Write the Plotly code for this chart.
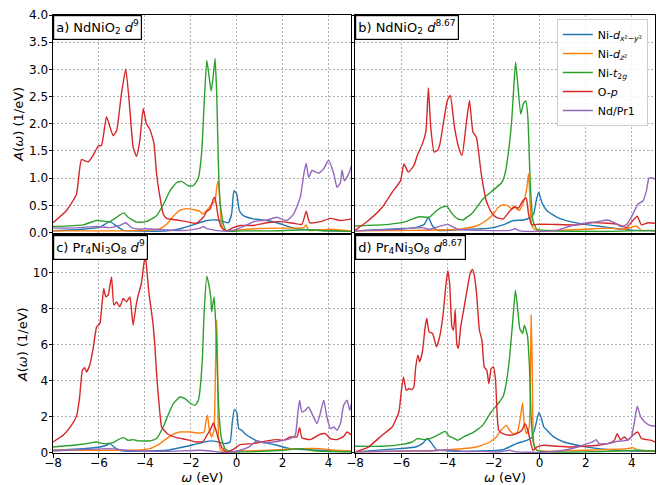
import plotly.graph_objects as go
from plotly.subplots import make_subplots

# ---------------- data ----------------
SERIES_NAMES = ["Ni-<i>d</i><sub><i>x</i>²−<i>y</i>²</sub>", "Ni-<i>d</i><sub><i>z</i>²</sub>",
                "Ni-<i>t</i><sub>2<i>g</i></sub>", "O-<i>p</i>", "Nd/Pr1"]
SERIES_COLORS = ["#1f77b4", "#ff7f0e", "#2ca02c", "#d62728", "#9467bd"]
PANEL_LABELS = ["a) NdNiO<sub>2</sub> <i>d</i><sup>9</sup>",
                "b) NdNiO<sub>2</sub> <i>d</i><sup>8.67</sup>",
                "c) Pr<sub>4</sub>Ni<sub>3</sub>O<sub>8</sub> <i>d</i><sup>9</sup>",
                "d) Pr<sub>4</sub>Ni<sub>3</sub>O<sub>8</sub> <i>d</i><sup>8.67</sup>"]
TOP_YTICKS = [0.0, 0.5, 1.0, 1.5, 2.0, 2.5, 3.0, 3.5, 4.0]
BOTTOM_YTICKS = [0, 2, 4, 6, 8, 10]
XTICKS = [-8, -6, -4, -2, 0, 2, 4]

# panel a) NdNiO2 d9
A_DX_X = [-8, -6.69, -5.96, -5.52, -5.31, -4.94, -4.51, -3.05, -2.46, -1.89, -1.3, -0.87, -0.58, -0.36, -0.22, -0.12, 0.0, 0.12, 0.29, 0.73, 1.32, 1.75, 2.33, 2.77, 5.0]
A_DX_Y = [0.03, 0.06, 0.1, 0.2, 0.14, 0.04, 0.03, 0.03, 0.07, 0.14, 0.22, 0.23, 0.2, 0.18, 0.34, 0.77, 0.71, 0.4, 0.31, 0.25, 0.22, 0.18, 0.1, 0.06, 0.02]
A_DZ2_X = [-8, -3.93, -3.34, -3.05, -2.76, -2.46, -2.17, -1.89, -1.6, -1.48, -1.3, -1.08, -0.94, -0.87, -0.8, -0.73, -0.66, -0.55, 0.73, 1.9, 2.92, 3.03, 3.14, 4.08, 5.0]
A_DZ2_Y = [0.03, 0.04, 0.07, 0.15, 0.3, 0.41, 0.44, 0.42, 0.39, 0.34, 0.41, 0.52, 0.58, 0.83, 0.95, 0.58, 0.15, 0.04, 0.07, 0.08, 0.09, 0.14, 0.04, 0.06, 0.03]
A_T2G_X = [-8, -6.69, -6.1, -5.52, -5.23, -4.91, -4.73, -4.36, -3.93, -3.49, -3.2, -2.9, -2.61, -2.4, -2.1, -1.89, -1.67, -1.52, -1.41, -1.3, -1.2, -1.11, -1.01, -0.94, -0.87, -0.8, -0.73, -0.58, -0.44, 0.15, 1.5, 3.0, 4.0, 5.0]
A_T2G_Y = [0.11, 0.14, 0.22, 0.2, 0.28, 0.36, 0.28, 0.19, 0.2, 0.31, 0.51, 0.77, 0.92, 0.94, 0.86, 0.86, 1.0, 1.5, 2.43, 3.17, 2.86, 2.6, 2.92, 3.2, 2.55, 1.32, 0.58, 0.15, 0.03, 0.03, 0.03, 0.05, 0.03, 0.02]
A_OP_X = [-8, -7.42, -6.98, -6.76, -6.47, -6.25, -6.03, -5.89, -5.67, -5.52, -5.38, -5.23, -5.02, -4.83, -4.65, -4.51, -4.36, -4.22, -4.07, -3.93, -3.78, -3.6, -3.49, -3.34, -3.2, -3.05, -2.61, -2.17, -1.75, -1.45, -1.3, -1.16, -1.01, -0.95, -0.8, -0.66, -0.44, -0.15, 0.15, 0.73, 1.32, 1.9, 2.48, 2.84, 3.03, 3.18, 3.65, 4.08, 4.52, 5.0]
A_OP_Y = [0.18, 0.4, 0.7, 1.34, 1.3, 1.42, 1.59, 1.6, 2.13, 1.94, 1.78, 1.87, 2.55, 3.01, 2.25, 1.57, 1.4, 1.69, 2.28, 2.0, 1.9, 1.63, 1.08, 0.65, 0.34, 0.26, 0.23, 0.2, 0.17, 0.28, 0.39, 0.43, 0.62, 0.65, 0.28, 0.09, 0.03, 0.09, 0.13, 0.13, 0.18, 0.2, 0.17, 0.15, 0.39, 0.18, 0.2, 0.26, 0.22, 0.25]
A_ND_X = [-8, -6.84, -6.1, -5.52, -5.09, -4.83, -4.58, -4.22, -3.93, -3.34, -2.17, -1.6, -1.45, -1.3, -0.73, -0.15, 0.44, 0.73, 1.32, 1.75, 2.18, 2.48, 2.77, 2.95, 3.03, 3.14, 3.28, 3.57, 3.79, 4.0, 4.23, 4.37, 4.52, 4.59, 4.69, 4.88, 5.0]
A_ND_Y = [0.08, 0.09, 0.11, 0.09, 0.13, 0.18, 0.09, 0.06, 0.07, 0.05, 0.04, 0.08, 0.11, 0.07, 0.03, 0.04, 0.14, 0.2, 0.23, 0.28, 0.22, 0.34, 0.65, 1.14, 1.27, 1.01, 1.14, 1.09, 1.17, 1.33, 1.08, 0.83, 0.92, 1.15, 0.95, 1.08, 1.23]

# panel b) NdNiO2 d8.67
B_DX_X = [-8, -6.1, -5.37, -5.0, -4.82, -4.64, -4.42, -3.18, -2.16, -1.58, -1.14, -0.7, -0.41, -0.26, -0.15, -0.04, 0.1, 0.32, 0.76, 1.34, 1.93, 2.66, 3.39, 4.12, 5.0]
B_DX_Y = [0.03, 0.07, 0.09, 0.15, 0.28, 0.12, 0.04, 0.06, 0.08, 0.14, 0.22, 0.23, 0.28, 0.34, 0.58, 0.74, 0.55, 0.4, 0.28, 0.2, 0.15, 0.11, 0.07, 0.04, 0.03]
B_DZ2_X = [-8, -5.37, -3.47, -2.74, -2.31, -2.01, -1.8, -1.58, -1.36, -1.21, -1.11, -0.99, -0.88, -0.7, -0.55, -0.48, -0.44, -0.37, -0.29, -0.12, 1.93, 2.95, 3.68, 4.19, 4.41, 5.0]
B_DZ2_Y = [0.03, 0.04, 0.06, 0.12, 0.22, 0.34, 0.46, 0.51, 0.49, 0.43, 0.49, 0.43, 0.41, 0.55, 0.83, 1.08, 0.83, 0.22, 0.09, 0.04, 0.06, 0.08, 0.06, 0.12, 0.04, 0.04]
B_T2G_X = [-8, -6.54, -5.8, -5.23, -4.79, -4.47, -4.2, -4.01, -3.84, -3.55, -3.33, -2.89, -2.45, -2.01, -1.64, -1.5, -1.36, -1.21, -1.11, -1.04, -0.95, -0.82, -0.7, -0.6, -0.51, -0.41, -0.29, -0.12, 0.47, 3.0, 4.8, 5.0]
B_T2G_Y = [0.12, 0.15, 0.2, 0.29, 0.28, 0.4, 0.47, 0.48, 0.37, 0.25, 0.23, 0.37, 0.62, 0.78, 0.92, 1.08, 1.45, 2.06, 2.74, 3.13, 2.74, 2.18, 2.37, 2.42, 2.12, 0.95, 0.22, 0.06, 0.03, 0.02, 0.04, 0.03]
B_OP_X = [-8, -7.42, -6.83, -6.39, -6.03, -5.88, -5.69, -5.45, -5.3, -5.08, -4.93, -4.82, -4.72, -4.57, -4.42, -4.32, -4.13, -3.99, -3.87, -3.69, -3.47, -3.36, -3.18, -3.04, -2.89, -2.74, -2.53, -2.31, -2.09, -1.88, -1.58, -1.28, -1.07, -0.92, -0.7, -0.58, -0.48, -0.34, -0.12, 0.47, 1.64, 2.22, 2.95, 3.39, 3.75, 4.04, 4.23, 4.41, 4.7, 5.0]
B_OP_Y = [0.04, 0.22, 0.46, 0.74, 0.95, 1.26, 1.11, 1.23, 1.42, 1.63, 1.85, 2.66, 1.94, 1.48, 1.51, 1.63, 2.12, 2.44, 2.52, 1.94, 1.51, 1.42, 2.0, 2.43, 1.85, 1.75, 1.08, 0.58, 0.37, 0.28, 0.25, 0.4, 0.47, 0.45, 0.6, 0.63, 0.34, 0.14, 0.15, 0.15, 0.14, 0.18, 0.17, 0.15, 0.09, 0.22, 0.3, 0.14, 0.18, 0.17]
B_ND_X = [-8, -6.1, -5.08, -4.79, -3.99, -3.55, -2.45, -1.28, -1.07, -0.85, -0.12, 0.76, 1.34, 1.93, 2.51, 2.95, 3.24, 3.53, 3.75, 3.97, 4.26, 4.48, 4.63, 4.74, 4.91, 5.0]
B_ND_Y = [0.03, 0.06, 0.09, 0.06, 0.15, 0.06, 0.04, 0.04, 0.07, 0.03, 0.02, 0.04, 0.12, 0.17, 0.2, 0.23, 0.18, 0.11, 0.14, 0.28, 0.52, 0.58, 0.77, 1.0, 1.0, 0.98]

# panel c) Pr4Ni3O8 d9
C_DX_X = [-8, -6.69, -5.96, -5.67, -5.52, -5.31, -5.09, -4.51, -3.05, -2.32, -1.6, -1.16, -0.8, -0.51, -0.29, -0.19, -0.1, 0.0, 0.09, 0.22, 0.44, 0.87, 1.32, 1.75, 2.33, 3.5, 5.0]
C_DX_Y = [0.15, 0.24, 0.33, 0.43, 0.52, 0.3, 0.15, 0.09, 0.15, 0.33, 0.55, 0.67, 0.61, 0.52, 0.61, 1.72, 2.42, 2.27, 1.35, 1.26, 0.98, 0.67, 0.55, 0.43, 0.24, 0.15, 0.09]
C_DZ2_X = [-8, -5.96, -4.51, -3.78, -3.34, -3.05, -2.76, -2.47, -2.03, -1.6, -1.42, -1.33, -1.27, -1.19, -1.09, -0.99, -0.92, -0.87, -0.83, -0.79, -0.7, -0.44, 0.15, 1.32, 2.04, 2.77, 3.64, 4.23, 5.0]
C_DZ2_Y = [0.15, 0.15, 0.15, 0.24, 0.52, 0.8, 1.04, 1.16, 1.16, 1.11, 1.16, 1.81, 2.09, 1.26, 0.89, 1.26, 4.95, 7.39, 4.95, 0.89, 0.18, 0.06, 0.11, 0.15, 0.2, 0.24, 0.24, 0.15, 0.11]
C_T2G_X = [-8, -7.12, -6.54, -6.1, -5.81, -5.38, -5.16, -4.91, -4.73, -4.51, -4.29, -3.78, -3.49, -3.2, -2.99, -2.76, -2.47, -2.25, -2.03, -1.81, -1.67, -1.6, -1.49, -1.42, -1.3, -1.22, -1.13, -1.09, -1.01, -0.98, -0.9, -0.83, -0.76, -0.66, -0.51, -0.29, 0.15, 2.04, 2.77, 3.5, 5.0]
C_T2G_Y = [0.33, 0.43, 0.52, 0.61, 0.52, 0.57, 0.74, 0.85, 0.7, 0.74, 0.67, 0.67, 0.8, 1.44, 2.09, 2.74, 3.1, 3.01, 2.77, 2.64, 2.92, 3.47, 5.32, 7.73, 9.8, 9.39, 8.65, 7.82, 8.47, 8.65, 6.8, 4.03, 2.0, 0.8, 0.24, 0.07, 0.06, 0.15, 0.24, 0.11, 0.07]
C_OP_X = [-8, -7.56, -7.2, -6.98, -6.84, -6.72, -6.62, -6.54, -6.4, -6.25, -6.1, -5.96, -5.89, -5.79, -5.7, -5.6, -5.45, -5.35, -5.23, -5.09, -4.94, -4.8, -4.65, -4.58, -4.51, -4.39, -4.29, -4.15, -4.04, -3.97, -3.9, -3.81, -3.71, -3.63, -3.56, -3.49, -3.37, -3.27, -3.16, -2.99, -2.61, -2.17, -1.75, -1.45, -1.3, -1.16, -1.01, -0.9, -0.8, -0.66, -0.44, -0.15, 0.15, 0.73, 1.32, 1.75, 2.04, 2.33, 2.62, 2.74, 2.84, 3.2, 3.64, 3.86, 4.08, 4.37, 4.66, 4.81, 5.0]
C_OP_Y = [0.61, 0.98, 1.53, 2.03, 3.1, 4.58, 4.73, 4.49, 4.86, 5.79, 6.99, 7.17, 7.91, 9.11, 8.65, 8.74, 9.76, 8.19, 8.37, 8.1, 8.56, 8.37, 8.65, 7.91, 7.08, 8.1, 8.74, 9.39, 10.5, 10.87, 9.95, 8.74, 7.82, 6.99, 5.88, 4.4, 2.55, 1.44, 1.26, 1.04, 0.85, 0.74, 0.61, 0.65, 0.98, 1.26, 1.66, 1.26, 0.8, 0.33, 0.06, 0.2, 0.46, 0.52, 0.67, 0.74, 0.7, 0.89, 0.89, 1.4, 0.85, 0.74, 1.04, 1.07, 0.8, 0.74, 0.92, 1.16, 0.98]
C_ND_X = [-8, -6.54, -5.52, -4.8, -4.22, -3.05, -1.6, -1.01, -0.44, 0.15, 0.58, 0.87, 1.16, 1.6, 2.04, 2.33, 2.55, 2.66, 2.74, 2.84, 2.99, 3.13, 3.28, 3.5, 3.64, 3.79, 3.93, 4.08, 4.23, 4.37, 4.52, 4.66, 4.81, 4.93, 5.0]
C_ND_Y = [0.11, 0.2, 0.24, 0.15, 0.11, 0.09, 0.15, 0.09, 0.02, 0.15, 0.37, 0.67, 0.57, 0.61, 0.7, 0.8, 0.98, 2.18, 2.92, 2.27, 2.37, 2.55, 2.18, 1.63, 2.18, 2.92, 2.0, 1.35, 1.44, 1.26, 1.63, 2.64, 2.92, 2.37, 2.74]

# panel d) Pr4Ni3O8 d8.67
D_DX_X = [-8, -6.1, -5.37, -5.08, -4.86, -4.67, -4.47, -3.91, -2.45, -1.59, -1.01, -0.56, -0.34, -0.19, -0.04, 0.06, 0.18, 0.32, 0.61, 1.05, 1.64, 2.22, 3.1, 4.12, 5.0]
D_DX_Y = [0.06, 0.24, 0.33, 0.52, 0.8, 0.52, 0.18, 0.11, 0.11, 0.18, 0.52, 0.7, 0.85, 1.44, 2.22, 2.0, 1.44, 1.26, 0.89, 0.61, 0.43, 0.3, 0.18, 0.11, 0.09]
D_DZ2_X = [-8, -5.37, -3.91, -2.74, -2.16, -1.88, -1.67, -1.45, -1.3, -1.13, -0.96, -0.83, -0.74, -0.67, -0.56, -0.45, -0.39, -0.37, -0.32, -0.28, -0.2, 0.03, 1.93, 3.1, 3.82, 4.04, 4.26, 5.0]
D_DZ2_Y = [0.06, 0.11, 0.18, 0.33, 0.61, 0.89, 1.26, 1.53, 1.26, 1.04, 1.16, 2.0, 2.79, 1.63, 1.07, 1.44, 4.95, 7.63, 4.95, 0.89, 0.24, 0.11, 0.15, 0.2, 0.24, 0.3, 0.15, 0.11]
D_T2G_X = [-8, -6.83, -5.96, -5.52, -5.3, -5.0, -4.64, -4.35, -4.09, -3.91, -3.69, -3.55, -3.26, -2.91, -2.47, -2.1, -1.8, -1.59, -1.45, -1.3, -1.15, -1.05, -0.96, -0.86, -0.74, -0.66, -0.53, -0.44, -0.37, -0.26, -0.12, 0.47, 1.93, 3.39, 4.26, 5.0]
D_T2G_Y = [0.37, 0.37, 0.48, 0.61, 0.8, 0.74, 0.85, 1.04, 1.2, 0.92, 0.8, 0.7, 0.92, 1.11, 1.53, 2.27, 2.74, 3.1, 3.84, 5.32, 7.54, 9.02, 8.1, 6.9, 6.62, 7.08, 6.52, 4.77, 2.0, 0.52, 0.15, 0.06, 0.06, 0.11, 0.15, 0.11]
D_OP_X = [-8, -7.42, -6.83, -6.39, -6.1, -5.99, -5.9, -5.78, -5.66, -5.55, -5.45, -5.37, -5.27, -5.2, -5.08, -4.96, -4.89, -4.79, -4.64, -4.47, -4.32, -4.18, -4.07, -3.98, -3.9, -3.8, -3.73, -3.66, -3.59, -3.52, -3.42, -3.27, -3.12, -3.01, -2.91, -2.82, -2.72, -2.61, -2.5, -2.4, -2.29, -2.2, -2.1, -2.0, -1.91, -1.84, -1.77, -1.59, -1.3, -1.0, -0.77, -0.63, -0.51, -0.41, -0.29, -0.12, 0.18, 0.76, 1.34, 1.93, 2.51, 2.95, 3.24, 3.36, 3.5, 3.68, 3.82, 4.04, 4.26, 4.41, 4.63, 4.85, 5.0]
D_OP_Y = [0.06, 0.33, 0.98, 1.44, 2.27, 3.47, 4.21, 3.47, 3.57, 3.51, 3.66, 4.77, 5.42, 5.05, 5.6, 6.99, 7.45, 6.71, 6.62, 5.88, 6.52, 7.73, 9.2, 10.1, 9.39, 6.99, 6.8, 7.95, 6.06, 5.79, 6.99, 8.1, 9.2, 9.94, 10.17, 9.76, 8.65, 6.8, 6.25, 4.77, 4.58, 3.84, 4.68, 4.77, 4.03, 2.09, 1.26, 1.07, 0.98, 1.07, 1.26, 1.63, 1.26, 0.7, 0.15, 0.33, 0.43, 0.37, 0.33, 0.37, 0.43, 0.52, 0.7, 1.07, 0.74, 0.89, 0.7, 0.98, 1.16, 0.8, 0.74, 0.7, 0.61]
D_ND_X = [-8, -6.1, -4.79, -4.07, -3.34, -2.45, -1.72, -1.3, -1.01, 0.18, 1.05, 1.64, 2.07, 2.29, 2.44, 2.58, 2.95, 3.39, 3.75, 3.97, 4.12, 4.23, 4.38, 4.56, 4.78, 5.0]
D_ND_Y = [0.06, 0.11, 0.11, 0.18, 0.09, 0.09, 0.06, 0.15, 0.06, 0.04, 0.15, 0.33, 0.52, 0.61, 0.74, 0.52, 0.52, 0.65, 0.7, 0.89, 1.81, 2.59, 2.0, 1.72, 1.53, 1.48]

PANELS = [
    [(A_DX_X, A_DX_Y), (A_DZ2_X, A_DZ2_Y), (A_T2G_X, A_T2G_Y), (A_OP_X, A_OP_Y), (A_ND_X, A_ND_Y)],
    [(B_DX_X, B_DX_Y), (B_DZ2_X, B_DZ2_Y), (B_T2G_X, B_T2G_Y), (B_OP_X, B_OP_Y), (B_ND_X, B_ND_Y)],
    [(C_DX_X, C_DX_Y), (C_DZ2_X, C_DZ2_Y), (C_T2G_X, C_T2G_Y), (C_OP_X, C_OP_Y), (C_ND_X, C_ND_Y)],
    [(D_DX_X, D_DX_Y), (D_DZ2_X, D_DZ2_Y), (D_T2G_X, D_T2G_Y), (D_OP_X, D_OP_Y), (D_ND_X, D_ND_Y)],
]

# ---------------- figure ----------------
FONT = "DejaVu Sans"
fig = make_subplots(rows=2, cols=2)

positions = [(1, 1), (1, 2), (2, 1), (2, 2)]
for p, (r, c) in enumerate(positions):
    for s, (xs, ys) in enumerate(PANELS[p]):
        assert len(xs) == len(ys)
        fig.add_trace(go.Scatter(
            x=xs, y=ys, mode="lines", name=SERIES_NAMES[s],
            line=dict(color=SERIES_COLORS[s], width=1.4, shape="spline", smoothing=0.45),
            showlegend=(p == 1), legendrank=s + 1,
        ), row=r, col=c)

xdom = [[0.0, 0.4958], [0.5017, 1.0]]
ydom = {1: [0.5034, 1.0], 2: [0.0, 0.4966]}

axis_common = dict(showline=True, mirror=True, linecolor="black", linewidth=1,
                   ticks="outside", ticklen=3.5, tickwidth=0.8, tickcolor="black",
                   showgrid=True, gridcolor="#b0b0b0", gridwidth=0.8, griddash="2px,2px",
                   zeroline=False, automargin=False,
                   tickfont=dict(family=FONT, size=12, color="black"))

for p, (r, c) in enumerate(positions):
    fig.update_xaxes(range=[-8, 5], tickvals=XTICKS, domain=xdom[c - 1],
                     showticklabels=(r == 2), ticklabelstandoff=-5,
                     **axis_common, row=r, col=c)
    if r == 1:
        fig.update_yaxes(range=[0, 4], tickvals=TOP_YTICKS, tickformat=".1f",
                         domain=ydom[r], showticklabels=(c == 1), ticklabelstandoff=-2,
                         **axis_common, row=r, col=c)
    else:
        fig.update_yaxes(range=[0, 12.05], tickvals=BOTTOM_YTICKS,
                         domain=ydom[r], showticklabels=(c == 1), ticklabelstandoff=-2,
                         **axis_common, row=r, col=c)
    if c == 1:
        fig.update_yaxes(title=dict(text="<i>A</i>(<i>ω</i>) (1/eV)", standoff=2,
                                    font=dict(family=FONT, size=13, color="black")), row=r, col=c)
    if r == 2:
        fig.update_xaxes(title=dict(text="<i>ω</i> (eV)", standoff=10,
                                    font=dict(family=FONT, size=13, color="black")), row=r, col=c)

axis_names = [("x", "y"), ("x2", "y2"), ("x3", "y3"), ("x4", "y4")]
for p, (xa, ya) in enumerate(axis_names):
    fig.add_annotation(text=PANEL_LABELS[p], xref=f"{xa} domain", yref=f"{ya} domain",
                       x=0, y=1, xanchor="left", yanchor="top", showarrow=False,
                       bgcolor="white", bordercolor="black", borderwidth=1.2, borderpad=2,
                       font=dict(family=FONT, size=13, color="black"))

# the page places the figure 8 px from its top-left corner (default body margin),
# so the figure is made 8 px smaller and its margins shifted to match the reference
fig.update_layout(
    width=656, height=477,
    margin=dict(l=45, r=9, t=7, b=32, autoexpand=False),
    paper_bgcolor="white", plot_bgcolor="white",
    font=dict(family=FONT, size=12, color="black"),
    legend=dict(x=0.988, y=0.991, xanchor="right", yanchor="top",
                bgcolor="rgba(255,255,255,0.85)", bordercolor="#cccccc", borderwidth=1,
                font=dict(family=FONT, size=11, color="black"),
                itemwidth=30, tracegroupgap=0),
)

fig.write_html("out.html")
